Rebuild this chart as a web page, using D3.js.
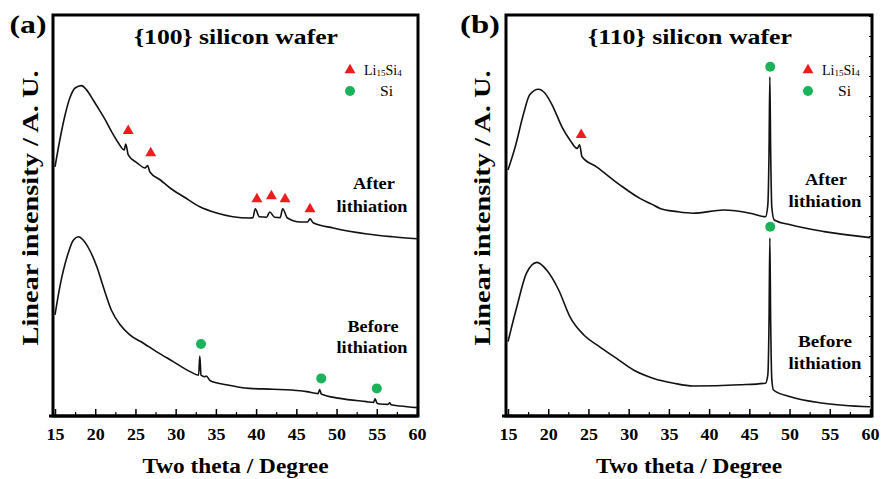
<!DOCTYPE html>
<html>
<head>
<meta charset="utf-8">
<script src="https://cdn.jsdelivr.net/npm/d3@7"></script>
<style>
  body { margin: 0; background: #fff; }
  text { font-family: "Liberation Serif", "Times New Roman", serif; }
</style>
</head>
<body>
<div id="chart"></div>
<script>
// XRD patterns, [two theta, intensity (a.u.)]
var afterA = [[15,62.3],[15.6,69],[16.2,74.8],[16.9,79.8],[17.5,82],[18.3,82.6],[18.9,81.6],[19.8,78.8],
  [20.6,76.2],[21.2,74.2],[22,71.2],[22.8,68.5],[23.6,66.5],[23.8,68],[24.1,65.3],[25.2,63.3],[26.2,62],
  [26.5,62.6],[26.8,61],[28.1,59],[29.3,57],[31,54.8],[33,52.3],[35,50.8],[37.1,49.8],[39.2,49.5],
  [39.6,49.6],[39.9,51.8],[40.4,49.8],[41.3,49.7],[41.7,51],[42.3,49.7],[43,49.6],[43.3,51.8],[43.9,49.5],
  [45.5,48.5],[46.4,48.5],[46.7,49.3],[47.1,48.3],[49.6,47],[53.8,45.5],[57,44.8],[60,44.3]];

var beforeA = [[15,25.3],[15.6,32.3],[16.5,39.8],[17.3,44],[17.9,44.8],[18.5,44],[19.3,41.5],[20.2,37.3],
  [21,32.3],[22,26.5],[23.1,22.8],[24.3,20.3],[26,18.2],[27.6,16.1],[29.7,13.6],[31.8,11.1],[32.85,10.2],
  [33,15],[33.15,10.2],[33.6,9.8],[33.8,10],[34.3,8.8],[36.3,7.8],[39.2,6.9],[42.1,6.7],[45.5,6.3],
  [46.3,6.1],[47.7,5.6],[47.9,6.6],[48.1,5.5],[50.4,4.4],[53.7,3.6],[54.6,3.4],[54.8,4.3],[55,3.3],
  [55.4,3],[56.4,2.9],[56.6,3.3],[56.8,2.8],[57.9,2.5],[60,2.1]];

var afterB = [[15,61.5],[15.9,67.3],[16.9,75.3],[17.7,80.3],[18.8,81.7],[19.6,80.7],[20.6,77.3],[21.7,72.3],
  [22.7,69],[23.6,66.9],[23.9,67.8],[24.2,64.8],[26,62.3],[28.9,57.8],[31.4,54.4],[32.9,52.9],[33.9,51.9],
  [36,51.1],[38,50.7],[41.8,51.5],[45.1,50.7],[47,49.8],[47.3,52.8],[47.45,66.5],[47.55,84.8],[47.65,66.5],
  [47.8,52],[48.1,49],[50.1,47.8],[54.3,46.1],[60,44.6]];

var beforeB = [[15,18.6],[16.1,27.3],[17.3,35.7],[18.6,38.4],[19.8,36.5],[21.3,31.5],[22.7,24.8],[24.4,20.3],
  [26.4,17.3],[28.5,14.4],[30.6,11.5],[33.1,9.4],[35.6,8.2],[38,7.5],[43.8,7.8],[47,8.2],[47.3,10.3],
  [47.45,24],[47.55,44.5],[47.65,24],[47.8,9],[48,6.5],[50.1,4.8],[54.2,3.2],[60,2.3]];

// peak markers
var triA = [[24.1,71.3],[26.9,65.7],[40.1,54.2],[41.9,55],[43.6,54.2],[46.7,51.7]];
var circA = [[33.15,18],[48.1,9.4],[55.0,6.9]];
var triB = [[24.1,70.3]];
var circB = [[47.6,87.3],[47.6,47.3]];

var xTicks = [15,20,25,30,35,40,45,50,55,60];
var xMinor = [17.5,22.5,27.5,32.5,37.5,42.5,47.5,52.5,57.5];

var svgWidth = 882;
var svgHeight = 479;

var svg = d3.select("#chart")
  .append("svg")
  .attr("width", svgWidth)
  .attr("height", svgHeight);

var redTri = "#ee1c1c";
var greenDot = "#1bb35a";

// text helper: the source figure's lettering is a bit wider than plain Times
function addText(g, x, y, str, size, weight, width) {
  var t = g.append("text")
    .attr("x", x)
    .attr("y", y)
    .attr("text-anchor", "middle")
    .attr("font-size", size)
    .attr("font-weight", weight)
    .text(str);
  if (width) t.attr("textLength", width).attr("lengthAdjust", "spacingAndGlyphs");
  return t;
}

function drawPanel(p) {
  var g = svg.append("g");

  var x = d3.scaleLinear().domain([15, 60]).range([p.x0, p.x1]);
  var y = d3.scaleLinear().domain([0, 100]).range([416, 16]);

  // frame
  g.append("rect")
    .attr("x", p.fx0)
    .attr("y", 15)
    .attr("width", p.fx1 - p.fx0)
    .attr("height", 416 - 15)
    .attr("fill", "none")
    .attr("stroke", "#000")
    .attr("stroke-width", 3);

  // bottom axis, ticks pointing inward
  var xAxis = g.append("g")
    .attr("transform", "translate(0,416)")
    .call(d3.axisBottom(x).tickValues(xTicks).tickSize(-7).tickPadding(12).tickFormat(d3.format("d")));
  xAxis.select(".domain").attr("stroke-width", 3).attr("d", "M" + (p.fx0 - 4) + ",0H" + p.fx1);
  xAxis.selectAll(".tick line").attr("stroke-width", 1.5);
  xAxis.selectAll("text")
    .attr("font-size", 17)
    .attr("font-weight", "bold")
    .attr("textLength", 18)
    .attr("lengthAdjust", "spacingAndGlyphs");

  var xAxisMinor = g.append("g")
    .attr("transform", "translate(0,416)")
    .call(d3.axisBottom(x).tickValues(xMinor).tickSize(-4).tickFormat(""));
  xAxisMinor.select(".domain").remove();
  xAxisMinor.selectAll(".tick line").attr("stroke-width", 1.2);

  if (p.rightTicks) {
    var yRight = g.append("g")
      .attr("transform", "translate(" + p.fx1 + ",0)")
      .call(d3.axisLeft(y).ticks(20).tickSize(3).tickFormat(""));
    yRight.select(".domain").remove();
    yRight.selectAll(".tick line").attr("stroke-width", 1);
  }

  var line = d3.line()
    .x(d => x(d[0]))
    .y(d => y(d[1]))
    .curve(d3.curveMonotoneX);

  [p.after, p.before].forEach(function(series) {
    g.append("path")
      .datum(series)
      .attr("d", line)
      .attr("fill", "none")
      .attr("stroke", "#111")
      .attr("stroke-width", 1.6);
  });

  // markers
  g.selectAll(".tri")
    .data(p.tri)
    .enter()
    .append("path")
    .attr("d", d3.symbol(d3.symbolTriangle, 52))
    .attr("transform", d => "translate(" + x(d[0]) + "," + y(d[1]) + ")")
    .attr("fill", redTri);

  g.selectAll(".dot")
    .data(p.circ)
    .enter()
    .append("circle")
    .attr("cx", d => x(d[0]))
    .attr("cy", d => y(d[1]))
    .attr("r", 5)
    .attr("fill", greenDot);

  // legend
  g.append("path")
    .attr("d", d3.symbol(d3.symbolTriangle, 52))
    .attr("transform", "translate(" + p.legX + ",70)")
    .attr("fill", redTri);
  g.append("circle")
    .attr("cx", p.legX)
    .attr("cy", 91)
    .attr("r", 5)
    .attr("fill", greenDot);

  var li = g.append("text")
    .attr("x", p.legX + 14)
    .attr("y", 75)
    .attr("font-size", 14);
  li.append("tspan").text("Li");
  li.append("tspan").attr("font-size", 9).attr("dy", 1).text("15");
  li.append("tspan").attr("dy", -1).text("Si");
  li.append("tspan").attr("font-size", 9).attr("dy", 1).text("4");

  addText(g, p.legX + 36.5, 96, "Si", 14, "normal", 13);

  // title
  addText(g, p.titleX, 44, p.title, 22, "bold", 204);

  // panel letter
  addText(g, p.letterX, 33, p.letter, 26, "bold", p.letterW);

  // state labels
  p.labels.forEach(function(l) {
    addText(g, l[0], l[1], l[2], 16, "bold", l[3]);
  });

  // axis titles
  addText(g, (p.fx0 + p.fx1) / 2, 473, "Two theta / Degree", 22, "bold", 186);

  g.append("text")
    .attr("transform", "translate(" + p.yLabX + ",208) rotate(-90)")
    .attr("text-anchor", "middle")
    .attr("font-size", 24)
    .attr("font-weight", "bold")
    .attr("textLength", 275)
    .attr("lengthAdjust", "spacingAndGlyphs")
    .text("Linear intensity / A. U.");
}

drawPanel({
  x0: 55, x1: 417, fx0: 53, fx1: 418,
  after: afterA, before: beforeA, tri: triA, circ: circA,
  legX: 350, titleX: 236, title: "{100} silicon wafer", letter: "(a)", letterX: 28, letterW: 37,
  yLabX: 38, rightTicks: false,
  labels: [[374, 189, "After", 42], [372, 212, "lithiation", 71], [373, 332, "Before", 51], [372, 353, "lithiation", 71]]
});

drawPanel({
  x0: 508, x1: 870, fx0: 506, fx1: 872,
  after: afterB, before: beforeB, tri: triB, circ: circB,
  legX: 808, titleX: 690, title: "{110} silicon wafer", letter: "(b)", letterX: 480, letterW: 40,
  yLabX: 490, rightTicks: true,
  labels: [[826, 185, "After", 42], [825, 207, "lithiation", 73], [825, 347, "Before", 54], [825, 369, "lithiation", 73]]
});
</script>
</body>
</html>
